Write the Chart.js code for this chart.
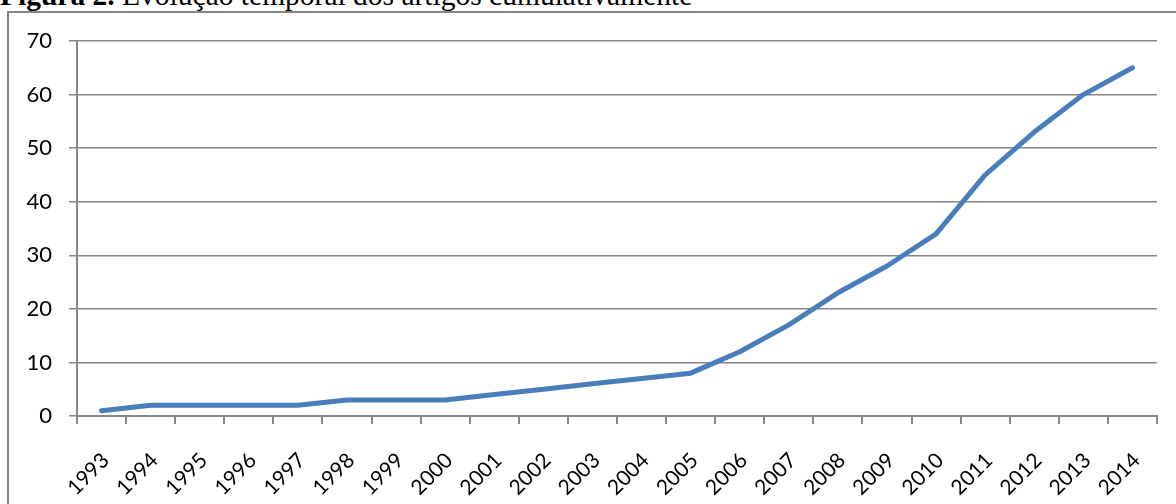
<!DOCTYPE html>
<html>
<head>
<meta charset="utf-8">
<script src="https://cdn.jsdelivr.net/npm/chart.js@4"></script>
<style>
  html, body { margin: 0; padding: 0; background: #fff; overflow: hidden; }
  #wrap { position: relative; width: 1176px; height: 504px; overflow: hidden; }
  #caption {
    position: absolute; left: 0; top: -19.5px; white-space: nowrap;
    font-family: "Liberation Serif", "Times New Roman", serif;
    font-size: 29.5px; line-height: 29.5px; color: #000;
  }
  #frame {
    position: absolute; left: 7px; top: 11px; width: 1400px; height: 800px;
    border: 2px solid #868686; box-sizing: border-box;
  }
  #chart { position: absolute; left: 0; top: 0; }
</style>
</head>
<body>
<div id="wrap">
  <div id="caption"><b>Figura 2.</b> Evolução temporal dos artigos cumulativamente</div>
  <div id="frame"></div>
  <canvas id="chart" width="1176" height="504"></canvas>
</div>
<script>
// Anos de publicação
const years = ['1993','1994','1995','1996','1997','1998','1999','2000','2001','2002','2003',
               '2004','2005','2006','2007','2008','2009','2010','2011','2012','2013','2014'];
// Número acumulado de artigos
const cumulativeArticles = [1, 2, 2, 2, 2, 3, 3, 3, 4, 5, 6, 7, 8, 12, 17, 23, 28, 34, 45, 53, 60, 65];
// Escala do eixo vertical
const yMin = 0;
const yMax = 70;
const yStep = 10;

const gridGray = '#868686';
const fontFamily = 'Lato, "Noto Sans", sans-serif';

new Chart(document.getElementById('chart'), {
  type: 'line',
  data: {
    labels: years,
    datasets: [{
      data: cumulativeArticles,
      borderColor: '#4A7EBB',
      borderWidth: 5,
      borderCapStyle: 'round',
      borderJoinStyle: 'round',
      pointRadius: 0,
      pointHoverRadius: 0,
      tension: 0,
      fill: false
    }]
  },
  options: {
    responsive: false,
    animation: false,
    events: [],
    layout: { padding: { left: 0, top: 41, right: 19, bottom: 0 } },
    plugins: { legend: { display: false }, tooltip: { enabled: false }, title: { display: false } },
    scales: {
      x: {
        type: 'category',
        offset: true,
        grid: {
          display: true,
          offset: true,
          drawOnChartArea: false,
          drawTicks: true,
          tickLength: 8,
          color: gridGray,
          lineWidth: 2
        },
        border: { display: true, color: gridGray, width: 2 },
        ticks: {
          font: { family: fontFamily, size: 21 },
          color: '#000',
          minRotation: 45,
          maxRotation: 45,
          autoSkip: false,
          labelOffset: 4,
          padding: 24
        },
        afterFit(scale) { scale.height = 88; }
      },
      y: {
        min: yMin,
        max: yMax,
        grid: {
          color: gridGray,
          lineWidth: 1.5,
          drawTicks: true,
          tickLength: 8
        },
        border: { display: true, color: gridGray, width: 2 },
        ticks: {
          stepSize: yStep,
          font: { family: fontFamily, size: 22 },
          color: '#000',
          padding: 17
        },
        afterFit(scale) { scale.width = 77; }
      }
    }
  }
});
</script>
</body>
</html>
